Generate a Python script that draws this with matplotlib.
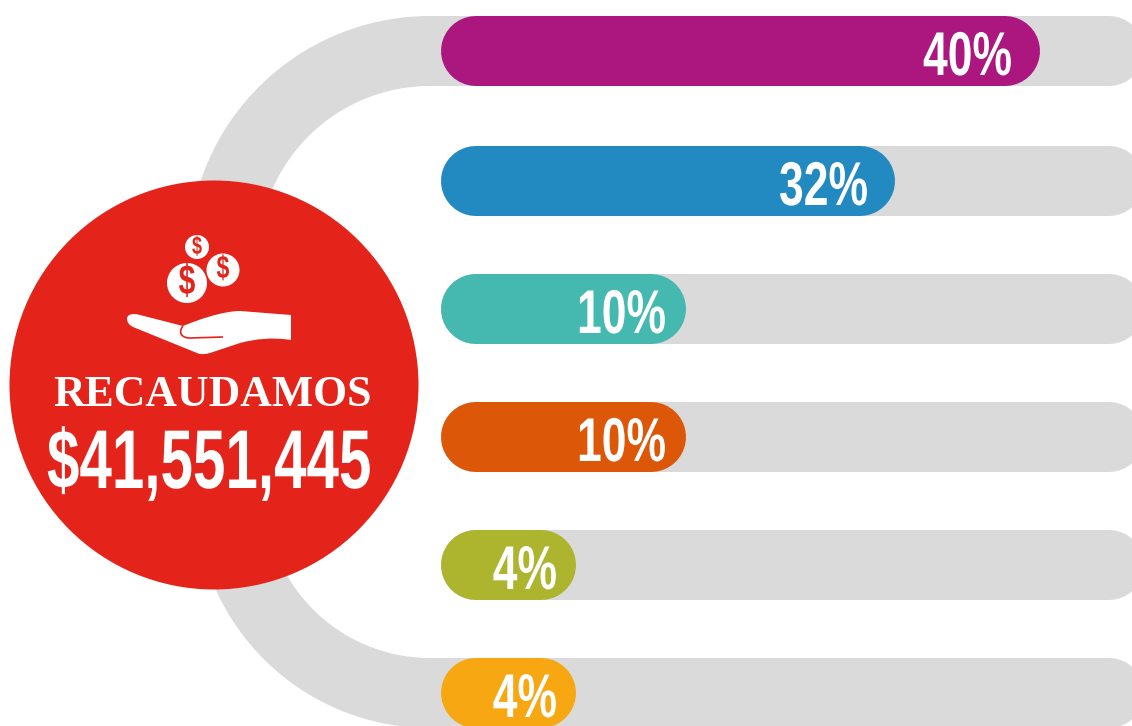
import matplotlib
matplotlib.use("Agg")
import matplotlib.pyplot as plt
from matplotlib.patches import Circle, PathPatch
from matplotlib.patheffects import AbstractPathEffect
from matplotlib.path import Path
from matplotlib.transforms import Affine2D
import numpy as np

title = "RECAUDAMOS"
total = "$41,551,445"
shares = [40, 32, 10, 10, 4, 4]
# bars are not proportional in the original, lengths read off the picture
bar_lengths = [599, 454, 245, 245, 135, 135]
bar_tops = [16, 146, 274, 402, 530, 658]
bar_colors = ["#AB167F", "#2289C1", "#45B8AF", "#DC5707", "#ADB42E", "#F7A712"]
label_gaps = [28, 27, 20, 20, 19, 19]

BAR_H = 70
BAR_X = 441
TRACK_END = 1144  # runs a little past the picture edge, gets clipped
GRAY = "#DADADA"
RED = "#E4241B"
LW = BAR_H * 0.72


class Squeeze(AbstractPathEffect):
  # no condensed font installed, so narrow the glyphs around x0 (pixels)
  def __init__(self, x0, sx):
    super().__init__()
    self.x0 = x0
    self.sx = sx

  def draw_path(self, renderer, gc, tpath, affine, rgbFace=None):
    squeeze = Affine2D().translate(-self.x0, 0).scale(self.sx, 1).translate(self.x0, 0)
    renderer.draw_path(gc, tpath, affine + squeeze, rgbFace)


fig = plt.figure(figsize=(11.32, 7.26), dpi=100)
ax = fig.add_axes([0, 0, 1, 1])
ax.set_xlim(0, 1132)
ax.set_ylim(726, 0)
ax.axis("off")


def pill(x0, x1, top, color, zorder):
  y = top + BAR_H / 2
  ax.plot([x0 + BAR_H / 2, x1 - BAR_H / 2], [y, y], color=color, lw=LW,
          solid_capstyle="round", zorder=zorder)


def arc(cx, cy, r, a0, a1, xend):
  t = np.radians(np.linspace(a0, a1, 80))
  xs = np.append(xend, cx + r * np.cos(t))
  ys = np.append(cy + r * np.sin(a0 * np.pi / 180), cy + r * np.sin(t))
  ax.plot(xs, ys, color=GRAY, lw=LW, solid_capstyle="butt", zorder=1)


# gray connectors going into the circle
arc(430, 258, 207, 270, 165, 480)
arc(430, 493, 200, 90, 195, 480)

for top, length, color, share, gap in zip(bar_tops, bar_lengths, bar_colors, shares, label_gaps):
  pill(BAR_X, TRACK_END, top, GRAY, 2)
  pill(BAR_X, BAR_X + length, top, color, 3)
  xr = BAR_X + length - gap
  ax.text(xr, top + 59, "%d%%" % share, color="white", family="Liberation Sans",
          weight="bold", fontsize=44.5, ha="right", va="baseline", zorder=4,
          path_effects=[Squeeze(xr, 0.72)])

ax.add_patch(Circle((214, 385), 204.5, fc=RED, ec="none", zorder=5))

# coins
for cx, cy, r, fs in [(187, 283, 20, 30), (223, 270, 16.5, 23), (197, 247, 12, 18)]:
  ax.add_patch(Circle((cx, cy), r, fc="white", ec="none", zorder=6))
  ax.text(cx, cy, "$", color=RED, family="Liberation Sans", weight="bold", fontsize=fs,
          ha="center", va="center", zorder=7, path_effects=[Squeeze(cx, 0.72)])

# hand icon
M, L, C = Path.MOVETO, Path.LINETO, Path.CURVE4
hand = [(127, 319), (127, 314), (133, 313), (140, 315), (183, 326),
        (195, 321), (222, 311), (240, 311), (291, 315), (291, 340),
        (272, 337), (255, 339), (240, 343), (210, 353), (203, 355), (199, 354), (197, 353),
        (133, 327), (129, 325), (127, 322), (127, 319)]
codes = [M, C, C, C, L, C, C, C, L, L, C, C, C, L, C, C, C, L, C, C, C]
ax.add_patch(PathPatch(Path(hand, codes), fc="white", ec="none", zorder=6))
thumb = [(183, 326), (178, 332), (181, 338), (190, 338), (223, 337)]
ax.add_patch(PathPatch(Path(thumb, [M, C, C, C, L]), fc="none", ec=RED, lw=1.2, zorder=7))

ax.text(212, 406, title, color="white", family="Liberation Serif", weight="bold",
        fontsize=31.5, ha="center", va="baseline", zorder=6)
ax.text(47, 488, total, color="white", family="Liberation Sans", weight="bold",
        fontsize=60, ha="left", va="baseline", zorder=6, path_effects=[Squeeze(47, 0.70)])

fig.savefig("out.png", dpi=100)
